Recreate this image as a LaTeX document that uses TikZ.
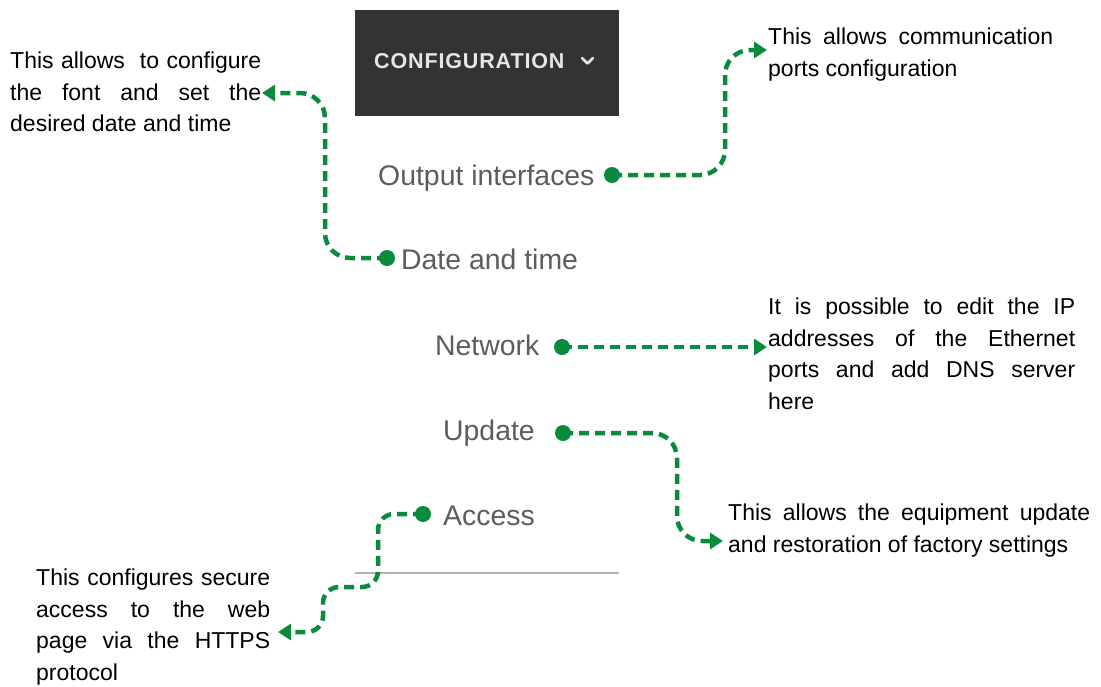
\documentclass[tikz,border=0pt]{standalone}
\usepackage{fontspec}
\setmainfont{Liberation Sans}
\usetikzlibrary{arrows.meta}
\definecolor{lgreen}{HTML}{0A8A3C}
\definecolor{menugray}{HTML}{5C5C5C}
\definecolor{hdrbg}{HTML}{333333}
\definecolor{hdrtxt}{HTML}{E6E6E6}
\tikzset{
  conn/.style={draw=lgreen, line width=4.5pt, dash pattern=on 10pt off 6pt, rounded corners=25pt,
    -{Triangle[length=13pt,width=16pt]}},
  dot/.style={circle, fill=lgreen, inner sep=0pt, minimum size=16pt},
  menu/.style={anchor=base west, inner sep=0pt, text=menugray, font=\fontsize{28.4}{34}\selectfont},
  desc/.style={anchor=north west, inner sep=0pt, align=left, text=black, font=\fontsize{23}{31.5}\selectfont},
}
\begin{document}
\begin{tikzpicture}[x=1pt,y=-1pt]
\useasboundingbox (0,0) rectangle (1101,686);
% header
\node[fill=hdrbg, minimum width=264pt, minimum height=106pt, inner sep=0pt, anchor=north west] (hdr) at (355,10) {};
\node[anchor=base west, inner sep=0pt, text=hdrtxt, font=\fontsize{21.5}{25}\selectfont\bfseries\addfontfeature{LetterSpace=4}] (hdrtxt) at (374,68.5) {CONFIGURATION};
\draw[hdrtxt, line width=2.5pt, line cap=round, line join=round] (582,58) -- (587.5,63.5) -- (593,58);
% separator
\draw[gray!60, line width=1.5pt] (355,573) -- (619,573);
% menu items
\node[menu] (mO) at (378,185) {Output interfaces};
\node[menu] (mD) at (401,269) {Date and time};
\node[menu] (mN) at (435,355) {Network};
\node[menu] (mU) at (443,440) {Update};
\node[menu] (mA) at (443,525) {Access};
% descriptions
\node[desc] (tD) at (10,52) {\makebox[251pt][s]{This allows\ \ to configure}\\\makebox[251pt][s]{the font and set the}\\desired date and time};
\node[desc] (tO) at (768,28) {\makebox[285pt][s]{This allows communication}\\ports configuration};
\node[desc] (tN) at (768,298) {\makebox[307pt][s]{It is possible to edit the IP}\\\makebox[307pt][s]{addresses of the Ethernet}\\\makebox[307pt][s]{ports and add DNS server}\\here};
\node[desc] (tU) at (728,504) {\makebox[362pt][s]{This allows the equipment update}\\and restoration of factory settings};
\node[desc] (tA) at (36,569) {\makebox[234pt][s]{This configures secure}\\\makebox[234pt][s]{access to the web}\\\makebox[234pt][s]{page via the HTTPS}\\protocol};
% dots
\node[dot] (dO) at (612,175) {};
\node[dot] (dD) at (387,258) {};
\node[dot] (dN) at (562,347) {};
\node[dot] (dU) at (563,433) {};
\node[dot] (dA) at (423,514) {};
% arrow ends
\coordinate (eO) at (767,50);
\coordinate (eD) at (262,93);
\coordinate (eN) at (767,347);
\coordinate (eU) at (723,541);
\coordinate (eA) at (278,632);
% connectors
\draw[conn] (dO.center) -- (725,175) -- (725,50) -- (eO);
\draw[conn] (dD.center) -- (325,258) -- (325,93) -- (eD);
\draw[conn] (dN.center) -- (eN);
\draw[conn] (dU.center) -- (677,433) -- (677,541) -- (eU);
\draw[conn, rounded corners=16pt] (dA.center) -- (378,514) -- (378,587) -- (323,587) -- (323,632) -- (eA);
\end{tikzpicture}
\end{document}
